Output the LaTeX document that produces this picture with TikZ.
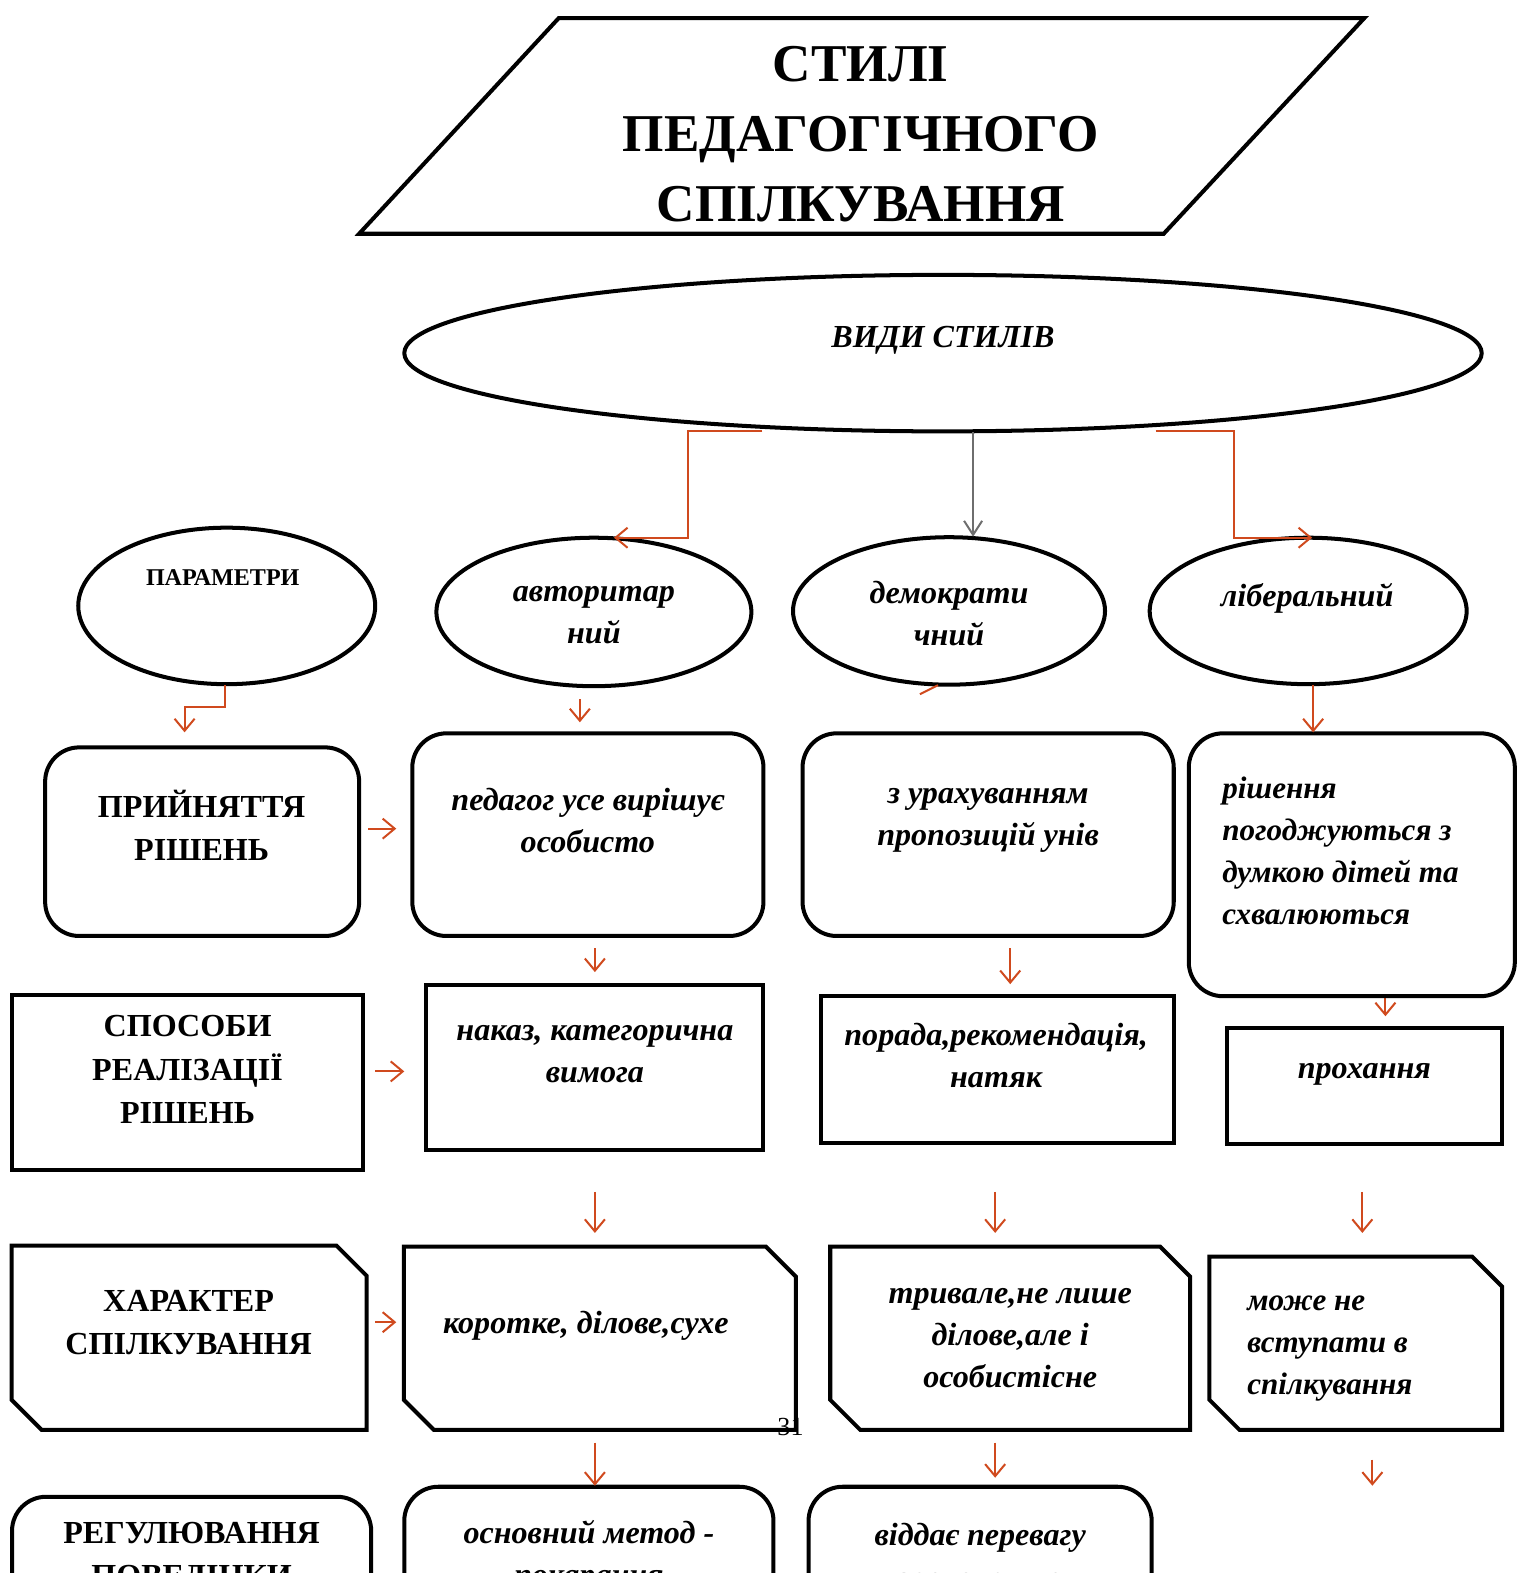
\documentclass[tikz,border=0pt]{standalone}
\usepackage{fontspec}
\setmainfont{Liberation Serif}
\usetikzlibrary{arrows.meta,shapes.geometric}
\definecolor{arrorange}{RGB}{208,74,30}
\definecolor{arrgray}{RGB}{110,110,110}
\begin{document}
\begin{tikzpicture}[x=0.5pt,y=-0.5pt,
  frame/.style={draw=black, line width=2pt, inner sep=0pt},
  rbox/.style={frame, rectangle, rounded corners=17pt},
  sbox/.style={frame, rectangle},
  cbox/.style={rectangle, inner sep=0pt},
  ell/.style={frame, ellipse},
  arr/.style={draw=arrorange, line width=1pt, -{Straight Barb[length=6pt,width=10pt,line width=1pt]}},
  garr/.style={draw=arrgray, line width=1pt, -{Straight Barb[length=7pt,width=9pt,line width=1pt]}},
  ttl/.style={font=\fontsize{26.5}{35}\selectfont\bfseries, align=center, inner sep=0pt},
  capt/.style={font=\fontsize{16}{21.5}\selectfont\bfseries, align=center, inner sep=0pt},
  itx/.style={font=\fontsize{16}{21}\selectfont\bfseries\itshape, align=center, inner sep=0pt},
  itl/.style={font=\fontsize{15.5}{21}\selectfont\bfseries\itshape, align=left, inner sep=0pt, anchor=west},
]
\useasboundingbox (0,0) rectangle (1512,1568);
\clip (0,0) rectangle (1512,1568);

% title parallelogram
\coordinate (p1) at (557,18);
\coordinate (p2) at (1360,18);
\coordinate (p3) at (1160,233);
\coordinate (p4) at (358,233);
\draw[line width=2pt, line join=miter] (p1) -- (p2) -- (p3) -- (p4) -- cycle;
\node[ttl] (title) at (858,134) {СТИЛІ\\ПЕДАГОГІЧНОГО\\СПІЛКУВАННЯ};

% main ellipse
\node[ell, minimum width=537pt, minimum height=78pt] (vid) at (940,352) {};
\node[itx, font=\fontsize{16}{20}\selectfont\bfseries\itshape] (tvid) at (940,339) {ВИДИ СТИЛІВ};

% row 1 ellipses
\node[ell, minimum width=148pt, minimum height=78pt] (par) at (226,604) {};
\node[ell, minimum width=157pt, minimum height=74pt] (avt) at (592,610) {};
\node[ell, minimum width=155.5pt, minimum height=73.5pt] (dem) at (946,609) {};
\node[ell, minimum width=158pt, minimum height=73pt] (lib) at (1304,609) {};
\node[capt, font=\fontsize{12}{14}\selectfont\bfseries] (tpar) at (222,576) {ПАРАМЕТРИ};
\node[itx, font=\fontsize{16}{21}\selectfont\bfseries\itshape] (tavt) at (592,613) {авторитар\\ний};
\node[itx, font=\fontsize{16}{21}\selectfont\bfseries\itshape] (tdem) at (946,612) {демократи\\чний};
\node[itx, font=\fontsize{16}{21}\selectfont\bfseries\itshape] (tlib) at (1303,596) {ліберальний};

% row 2
\node[rbox, minimum width=156.5pt, minimum height=94pt] (b1) at (201.5,839) {};
\node[rbox, minimum width=175pt, minimum height=101pt] (b2) at (586,832) {};
\node[rbox, minimum width=185pt, minimum height=101pt] (b3) at (985,832) {};
\node[capt] (tb1) at (201,823) {ПРИЙНЯТТЯ\\РІШЕНЬ};
\node[itx] (tb2) at (586,818) {педагог усе вирішує\\особисто};
\node[itx] (tb3) at (985,818) {з урахуванням\\пропозицій унів};

% row 3
\node[sbox, minimum width=175pt, minimum height=87pt] (c1) at (187,1079) {};
\node[sbox, minimum width=168pt, minimum height=82pt] (c2) at (593,1064) {};
\node[sbox, minimum width=176pt, minimum height=73pt] (c3) at (994,1066) {};
\node[sbox, minimum width=137pt, minimum height=57.5pt] (c4) at (1360,1082.5) {};
\node[capt] (tc1) at (187,1066) {СПОСОБИ\\РЕАЛІЗАЦІЇ\\РІШЕНЬ};
\node[itx] (tc2) at (593,1051) {наказ, категорична\\вимога};
\node[itx] (tc3) at (993,1052) {порада,рекомендація,\\натяк};
\node[itx] (tc4) at (1360,1071) {прохання};

% arrow hidden behind b4
\coordinate (k1) at (1381,990);
\coordinate (k2) at (1381,1013);
\draw[arr] (k1) -- (k2);
\node[rbox, minimum width=162.5pt, minimum height=131pt, fill=white] (b4) at (1347.5,862) {};
\node[itl] (tb4) at (1218,848) {рішення\\погоджуються з\\думкою дітей та\\схвалюються};

% row 4 (snipped corners)
\node[cbox, minimum width=176.5pt, minimum height=91.5pt] (d1) at (188.5,1333.5) {};
\node[cbox, minimum width=195pt, minimum height=91pt] (d2) at (598,1334) {};
\node[cbox, minimum width=179pt, minimum height=91pt] (d3) at (1007,1334) {};
\node[cbox, minimum width=145.5pt, minimum height=86pt] (d4) at (1351.5,1339) {};
\foreach \b in {d1,d2,d3,d4}{
  \draw[line width=2pt, line join=miter]
    (\b.north west) -- ([xshift=-15pt]\b.north east) -- ([yshift=-15pt]\b.north east)
    -- (\b.south east) -- ([xshift=15pt]\b.south west) -- ([yshift=15pt]\b.south west) -- cycle;
}
\node[capt] (td1) at (188,1318) {ХАРАКТЕР\\СПІЛКУВАННЯ};
\node[itx] (td2) at (584,1322) {коротке, ділове,сухе};
\node[itx] (td3) at (1007,1334) {тривале,не лише\\ділове,але і\\особистісне};
\node[itl] (td4) at (1243,1344) {може не\\вступати в\\спілкування};
\node[font=\fontsize{13}{14}\selectfont, inner sep=0pt] (pg) at (788,1422) {31};

% row 5 (cut off by the page edge)
\node[rbox, minimum width=179pt, minimum height=104pt] (e1) at (191,1596) {};
\node[rbox, minimum width=184pt, minimum height=109pt] (e2) at (587,1591) {};
\node[rbox, minimum width=171pt, minimum height=109pt] (e3) at (977,1591) {};
\node[capt] (te1) at (191,1553) {РЕГУЛЮВАННЯ\\ПОВЕДІНКИ};
\node[itx] (te2) at (587,1551) {основний метод -\\покарання};
\node[itx] (te3) at (977,1551) {віддає перевагу\\заохоченню};

% connector points
\foreach \n/\x/\y in {
  a1/760/430, a2/686/430, a3/686/536, a4/612/536,
  g1/970/431, g2/970/535,
  r1/1152/430, r2/1230/430, r3/1230/536, r4/1308/536,
  q1/224/683, q2/224/705, q3/184/705, q4/184/730,
  v1/578/697, v2/578/720,
  m1/917/692, m2/935/683,
  l1/1309/683, l2/1309/730,
  h1/367/826, h2/395/826,
  s1/593/945, s2/593/969,
  s3/1007/945, s4/1007/981,
  h3/374/1068, h4/403/1068,
  u1/593/1188, u2/593/1229,
  u3/992/1188, u4/992/1229,
  u5/1358/1188, u6/1358/1229,
  h5/374/1318, h6/395/1318,
  w1/593/1438, w2/593/1481,
  w3/992/1438, w4/992/1473,
  w5/1368/1455, w6/1368/1481}
  {\coordinate (\n) at (\x,\y);}

\draw[arr] (a1) -- (a2) -- (a3) -- (a4);
\draw[garr] (g1) -- (g2);
\draw[arr] (r1) -- (r2) -- (r3) -- (r4);
\draw[arr] (q1) -- (q2) -- (q3) -- (q4);
\draw[arr] (v1) -- (v2);
\draw[draw=arrorange, line width=1pt] (m1) -- (m2);
\draw[arr] (l1) -- (l2);
\draw[arr] (h1) -- (h2);
\draw[arr] (s1) -- (s2);
\draw[arr] (s3) -- (s4);
\draw[arr] (h3) -- (h4);
\draw[arr] (u1) -- (u2);
\draw[arr] (u3) -- (u4);
\draw[arr] (u5) -- (u6);
\draw[arr] (h5) -- (h6);
\draw[arr] (w1) -- (w2);
\draw[arr] (w3) -- (w4);
\draw[arr] (w5) -- (w6);
\end{tikzpicture}
\end{document}
